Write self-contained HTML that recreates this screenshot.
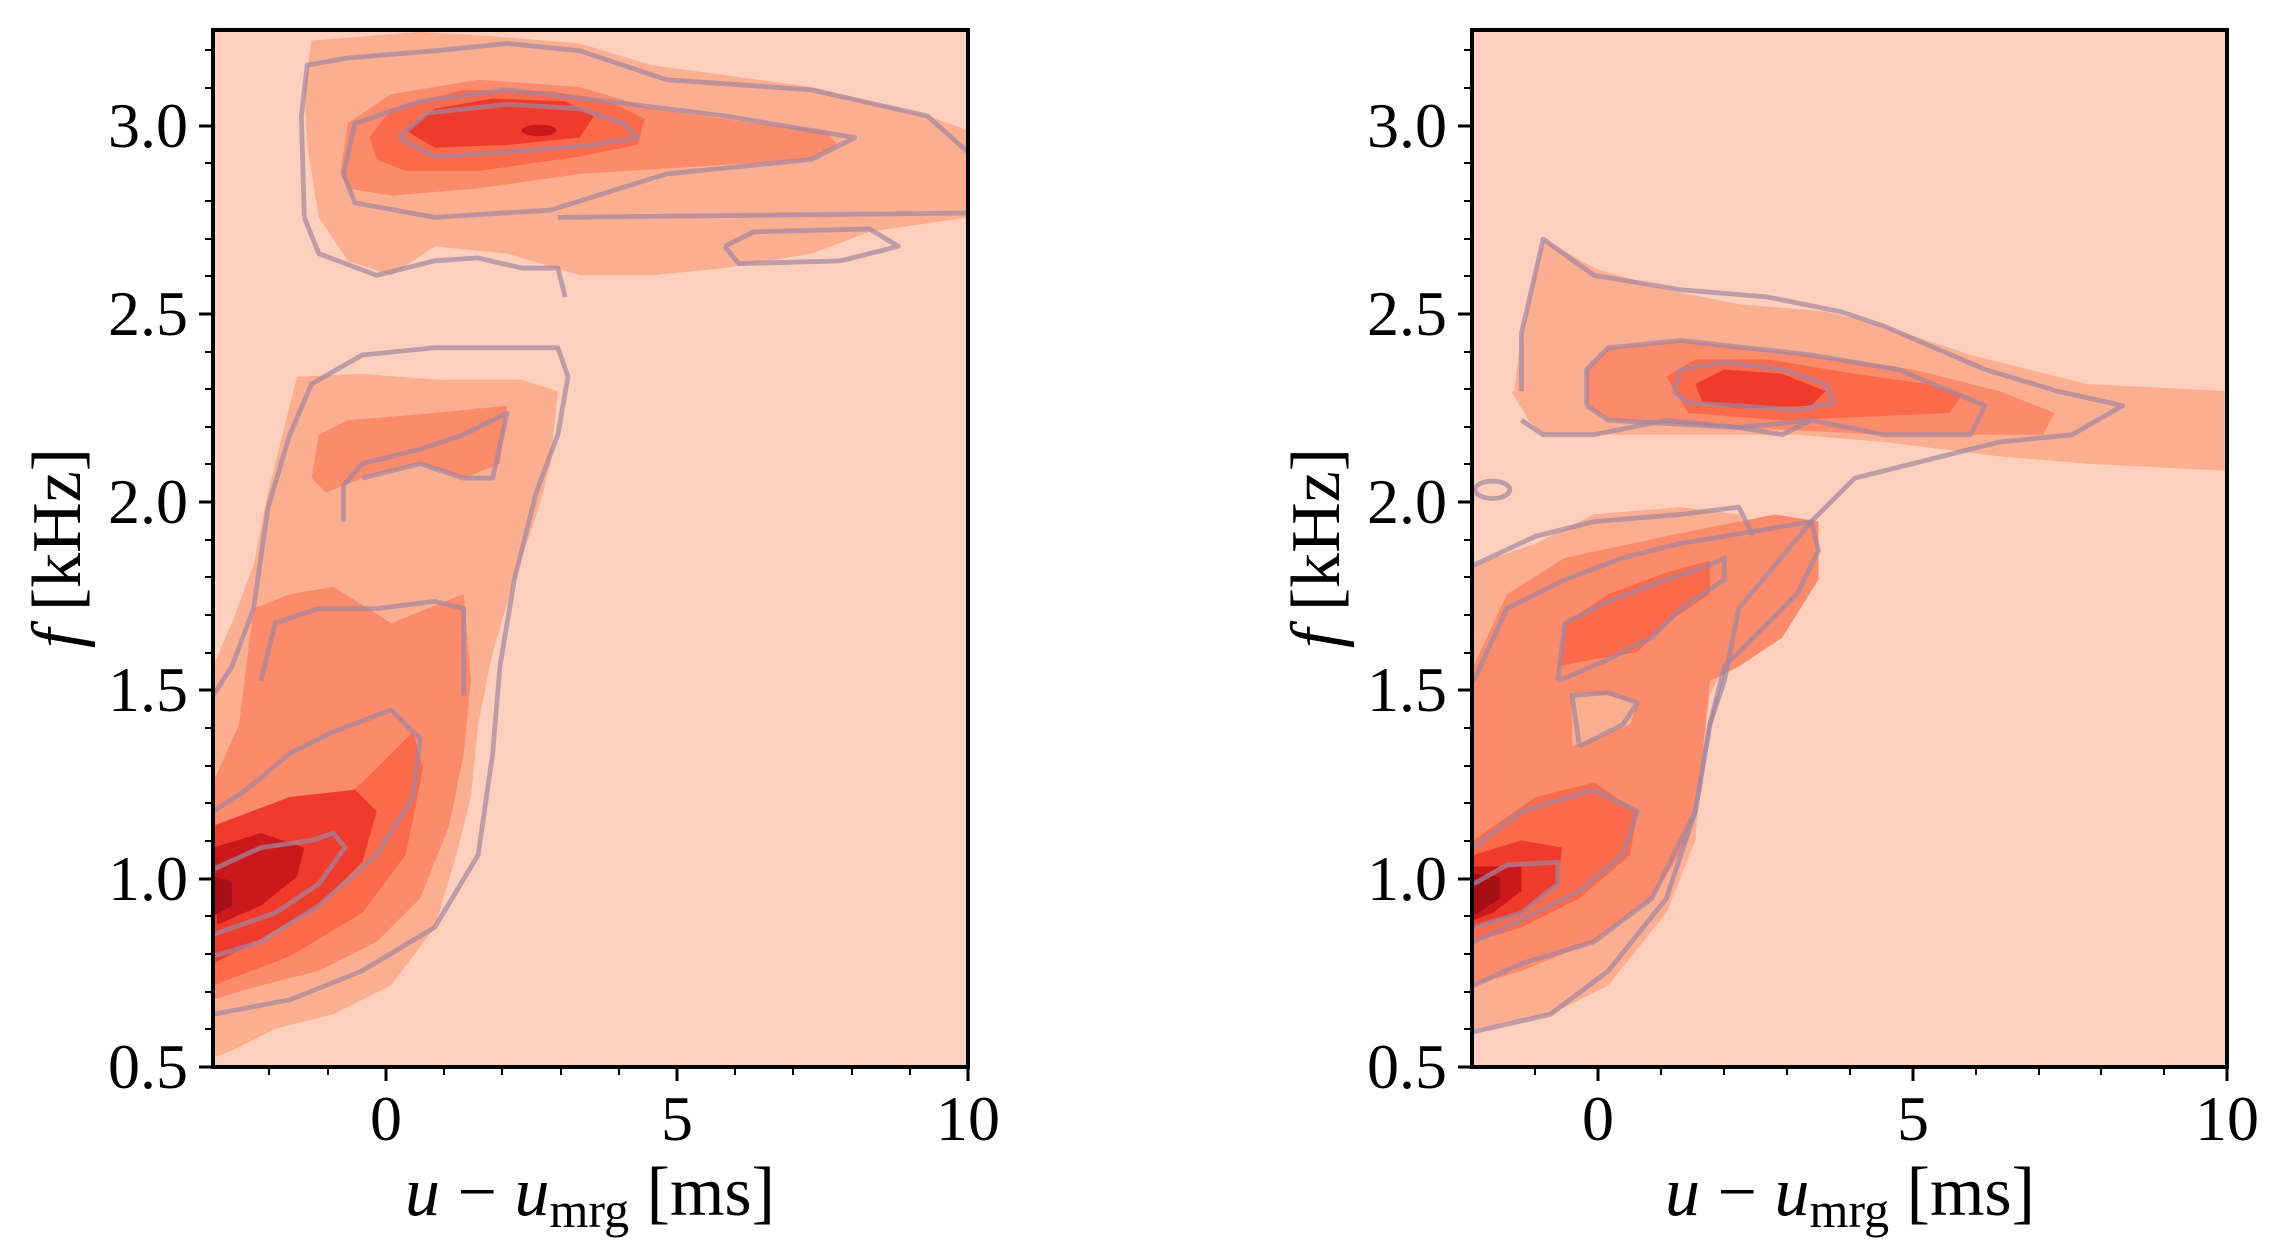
<!DOCTYPE html>
<html><head><meta charset="utf-8"><style>
html,body{margin:0;padding:0;background:#fff;}
svg{display:block;}
text{font-family:"Liberation Serif","DejaVu Serif",serif;fill:#000;}
</style></head><body>
<svg width="2272" height="1253" viewBox="0 0 2272 1253" xmlns="http://www.w3.org/2000/svg">
<defs>
<clipPath id="cl"><rect x="147" y="19" width="521" height="718"/></clipPath>
<clipPath id="cr"><rect x="1017" y="19" width="521" height="718"/></clipPath>
</defs>
<g transform="scale(1.449)">
 <g clip-path="url(#cl)">
  <rect x="147" y="19" width="521" height="718" fill="#fcd0bc"/>
  <polygon fill="#fcae91" points="210,60 215,28 290,22 340,25 400,30 450,45 560,60 640,80 668,90 668,150 600,160 560,175 500,185 450,190 400,190 350,175 300,170 270,190 240,180 220,150 212,100"/>
  <polygon fill="#fb8b6b" points="235,120 240,85 270,65 330,55 400,60 450,75 520,85 570,90 578,100 560,110 480,115 400,120 330,130 270,135 240,130"/>
  <polygon fill="#fb6a4a" points="255,95 270,75 320,62 380,63 420,70 445,82 440,100 400,108 330,118 280,118 260,110"/>
  <polygon fill="#ef3b2c" points="280,90 300,75 340,68 390,70 410,80 400,95 350,100 300,102"/>
  <ellipse cx="372" cy="90" rx="12" ry="4" fill="#cb181d"/>
  <polygon fill="#fcae91" points="147,460 160,430 175,390 185,340 200,280 205,260 250,258 300,262 360,262 385,270 380,320 372,350 355,400 340,450 330,500 325,550 315,590 300,640 270,680 230,700 190,710 160,725 147,730"/>
  <polygon fill="#fb8b6b" points="147,540 165,500 175,420 200,410 230,405 270,430 295,420 320,410 325,470 320,520 310,570 290,620 260,650 220,670 180,680 147,690"/>
  <polygon fill="#fb8b6b" points="215,330 220,300 240,290 300,285 350,280 345,320 320,330 290,320 250,330 225,340"/>
  <polygon fill="#fb6a4a" points="147,610 200,580 250,540 285,505 292,530 280,590 250,630 200,660 147,680"/>
  <polygon fill="#ef3b2c" points="147,570 200,550 245,545 260,560 250,595 220,625 180,648 147,665"/>
  <polygon fill="#cb181d" points="147,585 180,575 210,585 205,605 180,625 150,638"/>
  <polygon fill="#a50f15" points="147,605 160,608 160,625 147,632"/>
  <g fill="none" stroke="#a4869f" stroke-opacity="0.7" stroke-width="3.3" stroke-linejoin="round">
   <polyline points="210,150 208,80 212,45 240,40 300,35 350,30 400,35 460,55 560,62 640,80 668,105"/>
   <polyline points="385,150 668,147"/>
   <polyline points="210,150 220,175 260,190 300,180 330,178 360,185 385,185 390,205"/>
   <polyline points="237,120 245,85 290,70 350,62 420,70 500,80 590,95 560,110 460,120 380,145 300,150 245,140 237,120"/>
   <polyline points="275,95 295,78 350,72 400,75 430,85 440,95 410,100 350,105 300,108 275,95"/>
   <polyline points="500,170 520,160 600,158 620,170 580,180 510,182 500,170"/>
   <polyline points="147,480 160,460 175,420 185,350 200,300 215,265 250,245 300,240 350,240 385,240 392,260 385,300 370,340 355,400 345,460 340,520 330,590 300,640 250,670 200,690 147,700"/>
   <polyline points="147,560 170,545 200,520 230,505 270,490 290,510 285,550 260,590 220,625 180,650 147,660"/>
   <polyline points="147,600 180,585 215,580 230,575 238,585 220,610 190,630 147,645"/>
   <polyline points="180,470 190,430 220,420 260,420 300,415 320,420 320,480"/>
   <polyline points="237,360 237,335 250,320 290,310 320,300 350,285 340,330 320,330 290,320 250,330"/>
  </g>
 </g>
 <g clip-path="url(#cr)">
  <rect x="1017" y="19" width="521" height="718" fill="#fcd0bc"/>
  <polygon fill="#fcae91" points="1045,270 1050,230 1065,165 1100,185 1150,200 1200,210 1260,215 1300,225 1360,245 1440,265 1538,270 1538,325 1440,320 1380,315 1300,305 1240,300 1150,300 1100,300 1065,300 1055,290 1043,270"/>
  <polygon fill="#fb8b6b" points="1095,255 1110,240 1160,235 1250,245 1320,255 1380,270 1418,285 1410,300 1300,300 1200,295 1110,290 1095,280"/>
  <polygon fill="#fb6a4a" points="1150,260 1170,248 1220,248 1280,258 1330,265 1355,272 1345,285 1280,288 1230,290 1165,285"/>
  <polygon fill="#ef3b2c" points="1170,265 1190,255 1230,258 1260,270 1250,280 1200,282 1175,278"/>
  <polygon fill="#fcae91" points="1017,390 1060,375 1100,355 1160,350 1200,355 1220,390 1225,410 1200,440 1180,480 1175,520 1170,580 1150,630 1110,680 1070,700 1017,710"/>
  <polygon fill="#fb8b6b" points="1017,460 1040,410 1080,385 1150,370 1200,360 1225,355 1255,360 1255,400 1230,440 1200,460 1180,470 1175,520 1165,580 1140,620 1100,650 1050,670 1017,680"/>
  <polygon fill="#fcae91" points="1085,478 1110,480 1130,485 1125,500 1100,510 1085,515"/>
  <polygon fill="#fb6a4a" points="1017,580 1060,550 1100,540 1130,560 1125,590 1090,620 1050,640 1017,650"/>
  <polygon fill="#fb6a4a" points="1075,465 1080,430 1110,410 1150,395 1180,387 1180,410 1150,430 1130,450 1100,455 1075,460"/>
  <polygon fill="#ef3b2c" points="1017,590 1050,580 1078,585 1075,610 1050,630 1017,640"/>
  <polygon fill="#cb181d" points="1017,598 1050,598 1050,615 1030,630 1017,635"/>
  <polygon fill="#a50f15" points="1017,603 1035,605 1035,620 1017,632"/>
  <g fill="none" stroke="#a4869f" stroke-opacity="0.7" stroke-width="3.3" stroke-linejoin="round">
   <polyline points="1050,270 1050,230 1065,165 1100,190 1160,200 1220,205 1270,215 1300,225 1370,255 1420,270 1465,280 1430,300 1380,305 1320,320 1280,330 1250,360 1225,390 1200,420 1190,470 1180,500 1170,560 1150,620 1110,670 1070,700 1017,712"/>
   <polyline points="1050,290 1065,300 1100,300 1150,290 1200,295 1230,300 1250,290"/>
   <polyline points="1017,390 1060,370 1100,360 1160,355 1200,350 1210,370"/>
   <polyline points="1095,280 1095,255 1110,240 1160,235 1250,245 1310,255 1370,280 1360,300 1300,300 1250,290 1200,295 1110,290 1095,280"/>
   <polyline points="1155,270 1160,255 1190,250 1230,255 1260,265 1265,278 1240,283 1200,280 1165,278 1155,270"/>
   <polyline points="1017,470 1040,420 1080,400 1120,385 1160,375 1190,370 1250,360 1255,380 1240,410 1220,430 1190,460 1180,500 1170,560 1140,620 1100,650 1050,665 1017,680"/>
   <polyline points="1017,585 1050,560 1100,545 1130,560 1120,590 1090,615 1050,635 1017,650"/>
   <polyline points="1017,610 1040,597 1075,595 1075,610 1050,630 1017,640"/>
   <polyline points="1075,470 1080,430 1110,415 1150,400 1180,390 1190,385 1190,400 1160,420 1140,440 1110,455 1075,470"/>
   <polyline points="1090,515 1085,480 1110,478 1130,485 1120,500 1090,515"/>
   <ellipse cx="1030" cy="338" rx="12" ry="6"/>
  </g>
 </g>
</g>
<g stroke="#000" fill="none">
 <rect x="213" y="30" width="755" height="1037" stroke-width="4"/>
 <rect x="1472" y="30" width="755" height="1037" stroke-width="4"/>
</g>
<g stroke="#000" stroke-width="3">
 <line x1="386" y1="1067" x2="386" y2="1081"/><line x1="677" y1="1067" x2="677" y2="1081"/><line x1="968" y1="1067" x2="968" y2="1081"/>
 <line x1="1598" y1="1067" x2="1598" y2="1081"/><line x1="1913" y1="1067" x2="1913" y2="1081"/><line x1="2227" y1="1067" x2="2227" y2="1081"/>
 <line x1="199" y1="1067" x2="213" y2="1067"/><line x1="199" y1="879" x2="213" y2="879"/><line x1="199" y1="690" x2="213" y2="690"/><line x1="199" y1="502" x2="213" y2="502"/><line x1="199" y1="314" x2="213" y2="314"/><line x1="199" y1="126" x2="213" y2="126"/>
 <line x1="1458" y1="1067" x2="1472" y2="1067"/><line x1="1458" y1="879" x2="1472" y2="879"/><line x1="1458" y1="690" x2="1472" y2="690"/><line x1="1458" y1="502" x2="1472" y2="502"/><line x1="1458" y1="314" x2="1472" y2="314"/><line x1="1458" y1="126" x2="1472" y2="126"/>
</g>
<g stroke="#000" stroke-width="2">
 <line x1="269" y1="1067" x2="269" y2="1075"/><line x1="328" y1="1067" x2="328" y2="1075"/><line x1="444" y1="1067" x2="444" y2="1075"/><line x1="502" y1="1067" x2="502" y2="1075"/><line x1="561" y1="1067" x2="561" y2="1075"/><line x1="619" y1="1067" x2="619" y2="1075"/><line x1="735" y1="1067" x2="735" y2="1075"/><line x1="793" y1="1067" x2="793" y2="1075"/><line x1="852" y1="1067" x2="852" y2="1075"/><line x1="910" y1="1067" x2="910" y2="1075"/>
 <line x1="1535" y1="1067" x2="1535" y2="1075"/><line x1="1661" y1="1067" x2="1661" y2="1075"/><line x1="1724" y1="1067" x2="1724" y2="1075"/><line x1="1787" y1="1067" x2="1787" y2="1075"/><line x1="1850" y1="1067" x2="1850" y2="1075"/><line x1="1976" y1="1067" x2="1976" y2="1075"/><line x1="2039" y1="1067" x2="2039" y2="1075"/><line x1="2101" y1="1067" x2="2101" y2="1075"/><line x1="2164" y1="1067" x2="2164" y2="1075"/>
</g>
<g stroke="#000" stroke-width="2" id="ym">
 <line x1="205" y1="1029" x2="213" y2="1029"/><line x1="205" y1="992" x2="213" y2="992"/><line x1="205" y1="954" x2="213" y2="954"/><line x1="205" y1="916" x2="213" y2="916"/>
 <line x1="205" y1="841" x2="213" y2="841"/><line x1="205" y1="803" x2="213" y2="803"/><line x1="205" y1="766" x2="213" y2="766"/><line x1="205" y1="728" x2="213" y2="728"/>
 <line x1="205" y1="653" x2="213" y2="653"/><line x1="205" y1="615" x2="213" y2="615"/><line x1="205" y1="577" x2="213" y2="577"/><line x1="205" y1="540" x2="213" y2="540"/>
 <line x1="205" y1="464" x2="213" y2="464"/><line x1="205" y1="427" x2="213" y2="427"/><line x1="205" y1="389" x2="213" y2="389"/><line x1="205" y1="352" x2="213" y2="352"/>
 <line x1="205" y1="276" x2="213" y2="276"/><line x1="205" y1="239" x2="213" y2="239"/><line x1="205" y1="201" x2="213" y2="201"/><line x1="205" y1="163" x2="213" y2="163"/>
 <line x1="205" y1="88" x2="213" y2="88"/><line x1="205" y1="50" x2="213" y2="50"/>
</g>
<use href="#ym" x="1259"/>
<g font-size="64" text-anchor="end">
 <text x="188" y="1088">0.5</text><text x="188" y="900">1.0</text><text x="188" y="711">1.5</text><text x="188" y="523">2.0</text><text x="188" y="335">2.5</text><text x="188" y="147">3.0</text>
 <text x="1447" y="1088">0.5</text><text x="1447" y="900">1.0</text><text x="1447" y="711">1.5</text><text x="1447" y="523">2.0</text><text x="1447" y="335">2.5</text><text x="1447" y="147">3.0</text>
</g>
<g font-size="64" text-anchor="middle">
 <text x="386" y="1140">0</text><text x="677" y="1140">5</text><text x="968" y="1140">10</text>
 <text x="1598" y="1140">0</text><text x="1913" y="1140">5</text><text x="2227" y="1140">10</text>
 <text x="590" y="1215" font-size="70"><tspan font-style="italic">u</tspan> − <tspan font-style="italic">u</tspan><tspan font-size="50" dy="12">mrg</tspan><tspan dy="-12"> [ms]</tspan></text>
 <text x="1850" y="1215" font-size="70"><tspan font-style="italic">u</tspan> − <tspan font-style="italic">u</tspan><tspan font-size="50" dy="12">mrg</tspan><tspan dy="-12"> [ms]</tspan></text>
 <text transform="translate(80,548) rotate(-90)" font-size="70"><tspan font-style="italic">f</tspan> [kHz]</text>
 <text transform="translate(1339,548) rotate(-90)" font-size="70"><tspan font-style="italic">f</tspan> [kHz]</text>
</g>
</svg>
</body></html>
